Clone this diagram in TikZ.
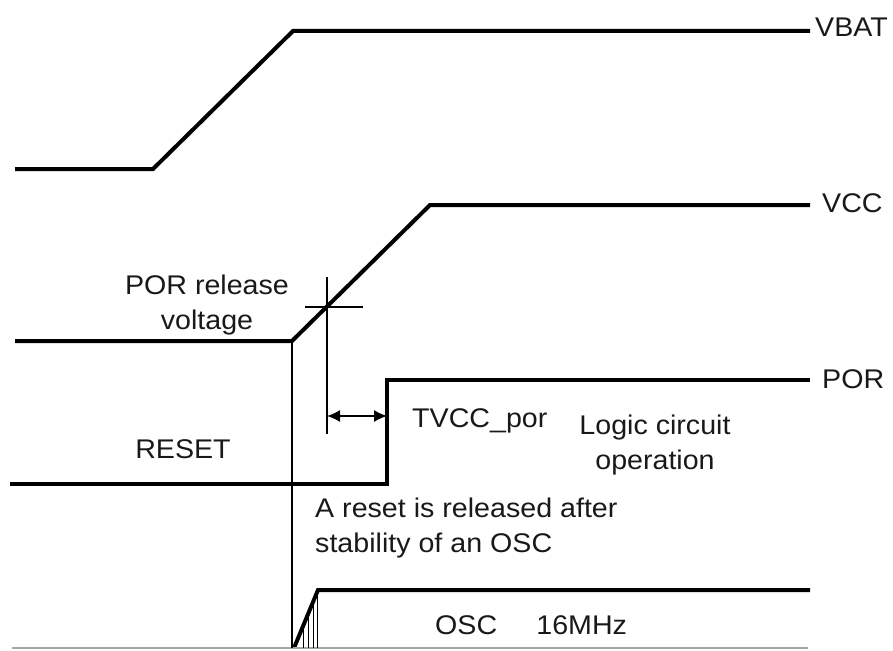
\documentclass[tikz,border=0pt]{standalone}
\usepackage{fontspec}
\setmainfont[FakeStretch=1.06]{Liberation Sans}
\usetikzlibrary{arrows.meta,positioning}

\begin{document}
\begin{tikzpicture}[x=1pt, y=-1pt, every node/.style={font=\fontsize{27}{35}\selectfont, inner sep=0pt, text=black!90}, wave/.style={line width=4pt, line join=miter}, guide/.style={line width=1.3pt}, arrow/.style={{Latex[length=13pt,width=12pt]}-{Latex[length=13pt,width=12pt]}, line width=1.3pt}]
\useasboundingbox (0,0) rectangle (893,650);
% waveform corners
\coordinate (vbat0) at (15,169); \coordinate (vbat1) at (153,169); \coordinate (vbat2) at (293,31); \coordinate (vbat3) at (810,31);
\coordinate (vcc0) at (15,341); \coordinate (vcc1) at (292,341); \coordinate (vcc2) at (430,205); \coordinate (vcc3) at (810,205);
\coordinate (por0) at (10,484); \coordinate (por1) at (387,484); \coordinate (por2) at (387,380); \coordinate (por3) at (810,380);
\coordinate (osc0) at (294,648); \coordinate (osc1) at (318,590); \coordinate (osc2) at (810,590);
\coordinate (cross) at (327,307); \coordinate (tv) at (327,416);
\draw[wave] (vbat0)--(vbat1)--(vbat2)--(vbat3);
\draw[wave] (vcc0)--(vcc1)--(vcc2)--(vcc3);
\draw[wave] (por0)--(por1)--(por2)--(por3);
\draw[wave] (osc0)--(osc1)--(osc2);
\draw[gray!70, line width=1.5pt] (12,648)--(808,648);
\draw[guide] (vcc1)--(292,648);
\draw[guide] (327,277)--(327,434);
\draw[guide] (305,307)--(363,307);
\draw[arrow] (tv)--(tv-|por1);
\foreach \x in {303,308,313,317}{\draw[line width=1pt] (\x,648)--(\x,{648-(\x-294)*58/24});}
\node[anchor=base west] (vbatlbl) at (815,37) {VBAT};
\node[anchor=base west] (vcclbl) at (822,212) {VCC};
\node[anchor=base west] (porlbl) at (822,388) {POR};
\node[anchor=north, align=center] (release) at (207,275) {POR release\\voltage};
\node[anchor=base] (reset) at (183,458) {RESET};
\node[anchor=base west] (tvcc) at (412,427) {TVCC\_por};
\node[anchor=north, align=center] (logic) at (655,415) {Logic circuit\\operation};
\node[anchor=north west, align=left] (stable) at (315,498) {A reset is released after\\stability of an OSC};
\node[anchor=base west] (osc) at (435,634) {OSC\hspace{1.45em}16MHz};
\end{tikzpicture}
\end{document}
